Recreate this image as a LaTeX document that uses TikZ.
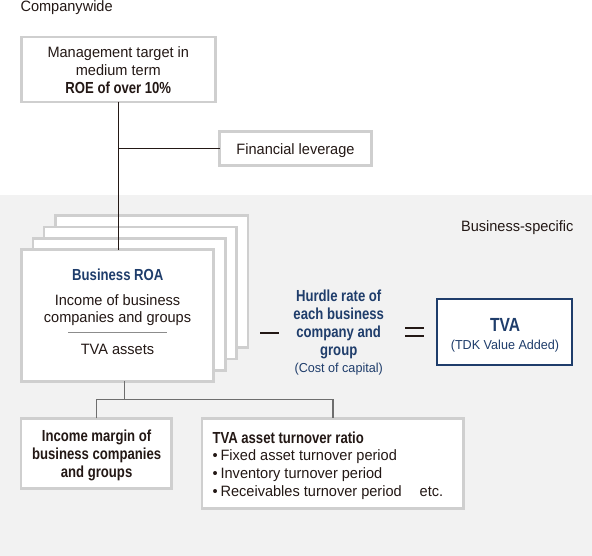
\documentclass[tikz,border=0pt]{standalone}
\usepackage{fontspec}
\setmainfont{Liberation Sans}[FakeStretch=0.97]
\newfontfamily\condbf{Liberation Sans}[FakeStretch=0.82]
\definecolor{txt}{HTML}{231815}
\definecolor{navy}{HTML}{1F3D6B}
\definecolor{bord}{HTML}{CFCFCF}
\definecolor{bg}{HTML}{F2F2F2}
\definecolor{conn}{HTML}{6E6E6E}
\definecolor{fracgray}{HTML}{8C8C8C}
\newcommand\fsreg{\fontsize{15}{18}\selectfont}
\newcommand\fssmall{\fontsize{13}{17}\selectfont}
\newcommand\fsbold{\condbf\bfseries\fontsize{16}{17.7}\selectfont}
\begin{document}
\begin{tikzpicture}[x=1pt,y=-1pt,
  every node/.style={text=txt, inner sep=0pt, outer sep=0pt, font=\fsreg},
  gbox/.style={draw=bord, line width=2.6pt, fill=white},
  bluebox/.style={draw=navy, line width=2.4pt, fill=white},
  link/.style={draw=txt, line width=1.1pt},
  sublink/.style={draw=conn, line width=1.2pt},
  fracline/.style={draw=fracgray, line width=1.4pt},
  boldtxt/.style={font=\fsbold, align=center},
  navytxt/.style={text=navy}]
\useasboundingbox (0,0) rectangle (592,556);
\fill[bg] (0,195) rectangle (592,556);

\node[anchor=base west] (cw) at (20.5,11.5) {Companywide};
\node[anchor=base east] (bs) at (573.5,231.5) {Business-specific};

% top boxes
\node[gbox, minimum width=194, minimum height=65] (mgmt) at (118.3,69.5) {};
\node[anchor=base, align=center, font=\fontsize{15}{18}\selectfont] (mgmtt) at (118.3,94)
  {Management target in\\medium term\\{\fsbold ROE of over 10\%}};
\node[gbox, minimum width=151.8, minimum height=34] (fin) at (295.5,148.3) {};
\node[anchor=base] (fint) at (fin.center |- 0,154.5) {Financial leverage};

% ROA stack
\node[gbox, minimum width=192.4, minimum height=131.8] (roa4) at (151.8,281.3) {};
\node[gbox, minimum width=192.4, minimum height=131.8] (roa3) at (140.3,293) {};
\node[gbox, minimum width=192.4, minimum height=131.8] (roa2) at (129.2,304.7) {};
\node[gbox, minimum width=192.4, minimum height=131.8] (roa1) at (117.5,315.5) {};
\node[anchor=base, font=\fsbold, navytxt] (roat) at (117.8,280.7) {Business ROA};
\node[anchor=base, align=center, font=\fontsize{15}{17.7}\selectfont] (inc) at (117.5,322.7)
  {Income of business\\companies and groups};
\draw[fracline] (68,332.7) -- (167,332.7);
\node[anchor=base] (tvaa) at (117.5,354) {TVA assets};

% connectors top
\coordinate (j1) at (mgmt.south |- fin.west);
\draw[link] (mgmt.south) -- (mgmt.south |- roa4.north) -- (mgmt.south |- roa1.north);
\draw[link] (j1) -- (fin.west);

% operators
\node (minus) at (269.7,332.8) {\rule{19pt}{2.3pt}};
\node[boldtxt, navytxt, anchor=base] (hurdle) at (338.7,355)
  {Hurdle rate of\\each business\\company and\\group};
\node[anchor=base, font=\fssmall, navytxt] (coc) at (338.7,372.7) {(Cost of capital)};
\node (eq) at (414.5,332.2) {\vbox{\hrule width 19pt height 2.3pt\vskip 6pt\hrule width 19pt height 2.3pt}};

% TVA box
\node[bluebox, minimum width=135, minimum height=66] (tva) at (504.7,331.8) {};
\node[anchor=base, navytxt, font=\condbf\bfseries\fontsize{19}{22}\selectfont] (tvat) at (505,331.7) {TVA};
\node[anchor=base, navytxt, font=\fssmall] (tdk) at (505,349.3) {(TDK Value Added)};

% bottom boxes
\node[gbox, minimum width=150.6, minimum height=70.4] (im) at (96.2,453.5) {};
\node[boldtxt, anchor=base] (imt) at (96.6,477.3)
  {Income margin of\\business companies\\and groups};
\node[gbox, minimum width=261.5, minimum height=90.3] (tat) at (332.9,463.5) {};
\node[anchor=base west, align=left, font=\fontsize{15}{17.8}\selectfont] (tatt) at (212.5,496.4)
  {{\fsbold TVA asset turnover ratio}\\
   •\hspace{3pt}Fixed asset turnover period\\
   •\hspace{3pt}Inventory turnover period\\
   •\hspace{3pt}Receivables turnover period\hspace{18pt}etc.};

% bottom connectors
\coordinate (jb) at (124.3,399.5);
\draw[sublink] (jb |- roa1.south) -- (jb);
\draw[sublink] (im.north) |- (jb) -| (tat.north);
\end{tikzpicture}
\end{document}
